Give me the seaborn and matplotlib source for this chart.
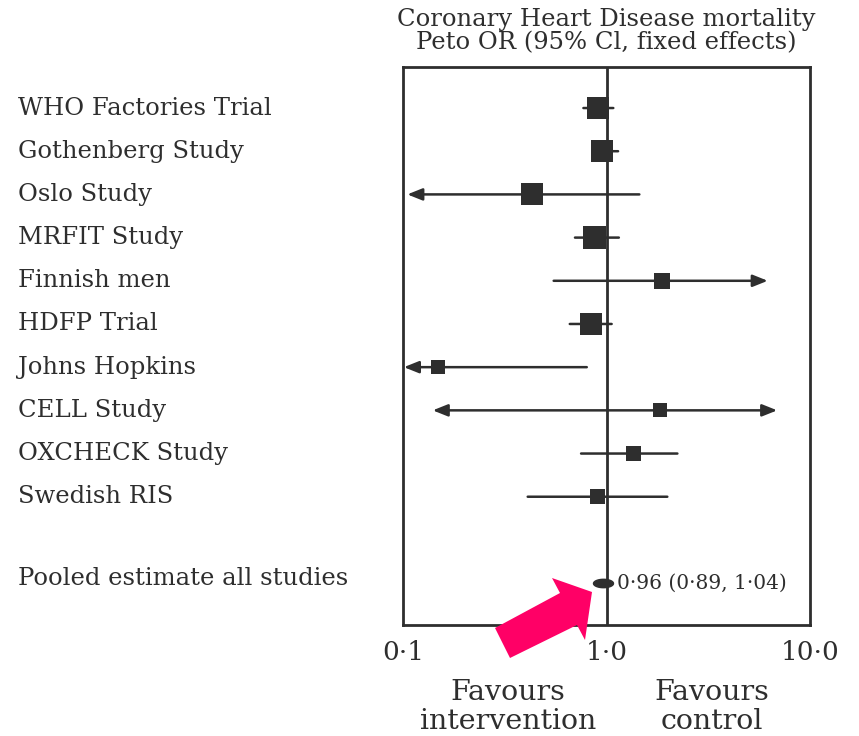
import numpy as np
import pandas as pd
import matplotlib
matplotlib.use("Agg")
import matplotlib.pyplot as plt
from matplotlib.patches import Polygon
from matplotlib.path import Path
import seaborn as sns

# ---------------- data ----------------
studies = ["WHO Factories Trial", "Gothenberg Study", "Oslo Study", "MRFIT Study",
           "Finnish men", "HDFP Trial", "Johns Hopkins", "CELL Study",
           "OXCHECK Study", "Swedish RIS"]
odds_ratio = [0.91, 0.955, 0.43, 0.87, 1.88, 0.84, 0.149, 1.84, 1.36, 0.90]
ci_lower = [0.77, 0.88, 0.105, 0.70, 0.55, 0.66, 0.101, 0.14, 0.75, 0.41]
ci_upper = [1.08, 1.14, 1.45, 1.15, 6.2, 1.06, 0.80, 6.9, 2.23, 1.99]
arrow_lower = [False, False, True, False, False, False, True, True, False, False]
arrow_upper = [False, False, False, False, True, False, False, True, False, False]
box_px = [22, 22, 22, 23, 16, 22, 14, 14, 15, 15]

pooled_label = "Pooled estimate all studies"
pooled_or = 0.96
pooled_low = 0.89
pooled_high = 1.04
pooled_text = "0·96 (0·89, 1·04)"

x_ticks = [0.1, 1.0, 10.0]
x_tick_labels = ["0·1", "1·0", "10·0"]
title_text = "Coronary Heart Disease mortality\nPeto OR (95% Cl, fixed effects)"

# ---------------- style ----------------
sns.set_theme(style="white")
plt.rcParams["font.family"] = ["DejaVu Serif"]
INK = "#2e2e2e"
PINK = "#ff0066"

W, H, DPI = 859, 736, 100
fig = plt.figure(figsize=(W / DPI, H / DPI), dpi=DPI)
fig.patch.set_facecolor("white")
ax = fig.add_axes([403 / W, 1 - 625 / H, (810 - 403) / W, (625 - 67) / H])
ax.set_facecolor("white")

n = len(studies)
pos = np.arange(n)
pooled_pos = n + 1

df = pd.DataFrame({"study": studies, "or": odds_ratio, "lo": ci_lower,
                   "hi": ci_upper, "pos": pos, "box": box_px})

ax.set_xscale("log")
ax.set_xlim(0.1, 10.0)
ax.set_ylim(pooled_pos + 0.97, -0.95)

# reference line at OR = 1
ax.axvline(1.0, color=INK, lw=2.0, zorder=1)

# confidence intervals
for _, r in df.iterrows():
    lo_a = bool(arrow_lower[int(r.pos)])
    hi_a = bool(arrow_upper[int(r.pos)])
    if lo_a and hi_a:
        style = "<|-|>"
    elif lo_a:
        style = "<|-"
    elif hi_a:
        style = "-|>"
    else:
        style = "-"
    if style != "-":
        style += ",head_length=0.75,head_width=0.3"
    ax.annotate("", xy=(r.hi, r.pos), xytext=(r.lo, r.pos),
                arrowprops=dict(arrowstyle=style, color=INK, lw=1.8,
                                shrinkA=0, shrinkB=0),
                zorder=2)

# squares
sizes = {b: (b * 72 / DPI) ** 2 for b in sorted(set(box_px))}
sns.scatterplot(data=df, x="or", y="pos", size="box", sizes=sizes, marker="s",
                color=INK, edgecolor=INK, linewidth=0, legend=False, ax=ax, zorder=3)

# pooled estimate: flat ellipse marker
t = np.linspace(0, 2 * np.pi, 60)
ell = Path(np.column_stack([np.cos(t), 0.42 * np.sin(t)]))
ax.plot([pooled_or], [pooled_pos], marker=ell, markersize=20 * 72 / DPI,
        color=INK, linestyle="none", zorder=3)
ax.text(pooled_high * 1.085, pooled_pos, pooled_text, fontsize=14.5, color=INK,
        va="center", ha="left")

# axes styling
for s in ax.spines.values():
    s.set_color(INK)
    s.set_linewidth(2.0)
ax.set_xticks(x_ticks)
ax.set_xticklabels(x_tick_labels, fontsize=19, color=INK)
ax.xaxis.set_minor_locator(matplotlib.ticker.NullLocator())
ax.tick_params(axis="x", length=0, pad=11)
ax.set_yticks([])
ax.set_xlabel("")
ax.set_ylabel("")

# study labels
lab_tr = matplotlib.transforms.blended_transform_factory(fig.transFigure, ax.transData)
for i, name in enumerate(studies):
    ax.text(18 / W, i, name, fontsize=17.5, color=INK, ha="left", va="center",
            transform=lab_tr, clip_on=False)
ax.text(18 / W, pooled_pos - 0.1, pooled_label, fontsize=17.5, color=INK, ha="left",
        va="center", transform=lab_tr, clip_on=False)

# title
fig.text(606 / W, 1 - 31 / H, title_text, fontsize=17.5, color=INK, ha="center",
         va="center", linespacing=1.0)

# favours labels
fig.text(508 / W, 1 - 707 / H, "Favours\nintervention", fontsize=20.5, color=INK,
         ha="center", va="center", linespacing=1.05)
fig.text(712 / W, 1 - 707 / H, "Favours\ncontrol", fontsize=20.5, color=INK,
         ha="center", va="center", linespacing=1.05)

# pink pointer arrow (overlay, figure pixels)
arrow_px = [(495, 628), (560, 593), (552, 578), (592, 592), (585, 640), (577, 625), (510, 658)]
poly = Polygon([(x / W, 1 - y / H) for x, y in arrow_px], closed=True,
               transform=fig.transFigure, facecolor=PINK, edgecolor="none", zorder=10)
fig.patches.append(poly)

fig.savefig("out.png", dpi=DPI, facecolor="white")
